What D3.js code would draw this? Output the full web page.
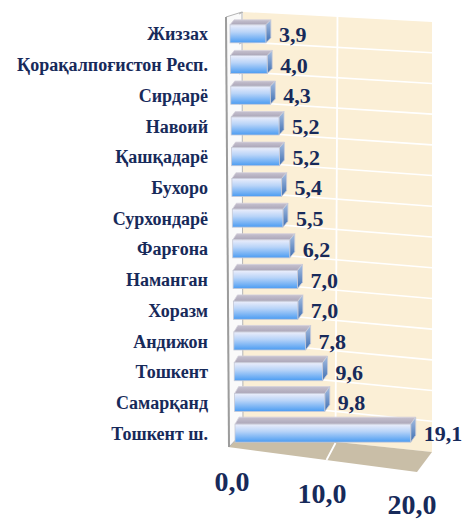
<!DOCTYPE html>
<html>
<head>
<meta charset="utf-8">
<script src="https://cdn.jsdelivr.net/npm/d3@7"></script>
<style>
  body { margin: 0; background: #fff; }
  text { font-family: "Liberation Serif", "Times New Roman", "DejaVu Serif", serif; font-weight: bold; fill: #172a5a; }
</style>
</head>
<body>
<div id="chart"></div>
<script>
// DATA
const regions = ["Жиззах", "Қорақалпоғистон Респ.", "Сирдарё", "Навоий", "Қашқадарё", "Бухоро",
  "Сурхондарё", "Фарғона", "Наманган", "Хоразм", "Андижон", "Тошкент", "Самарқанд", "Тошкент ш."];
const shares = [3.9, 4.0, 4.3, 5.2, 5.2, 5.4, 5.5, 6.2, 7.0, 7.0, 7.8, 9.6, 9.8, 19.1];
const ticks = [0, 10, 20];

const WIDTH = 464;
const HEIGHT = 519;
const fmt = v => v.toFixed(1).replace(".", ",");

const svg = d3.select("#chart").append("svg")
  .attr("width", WIDTH).attr("height", HEIGHT);

const defs = svg.append("defs");
const grad = (id, stops) => {
  const g = defs.append("linearGradient").attr("id", id)
    .attr("x1", 0).attr("y1", 0).attr("x2", 0).attr("y2", 1);
  stops.forEach(([o, c]) => g.append("stop").attr("offset", o).attr("stop-color", c));
};
grad("front", [["0%", "#eceefb"], ["40%", "#b9d4f8"], ["100%", "#4b9cf2"]]);
grad("side", [["0%", "#a9c0e2"], ["100%", "#3d6eb2"]]);
grad("top", [["0%", "#c6c1cf"], ["100%", "#aba6b8"]]);

// scales
const y = d3.scaleBand().domain(regions).range([19, 449]).padding(0);
const xLen = d3.scaleLinear().domain([0, 20]).range([0, 184]);
const xBack = d3.scaleLinear().domain([0, 20]).range([243, 432]);
const rowIdx = d3.scaleLinear().domain([0, regions.length - 1]);
const barStart = rowIdx.copy().range([230, 235]);
const depthDy = rowIdx.copy().range([5, 7]);
const tickX = d3.scaleLinear().domain([0, 20]).range([232, 412]);
const tickY = d3.scaleLinear().domain([0, 20]).range([491, 514]);

// back wall
const wallTopL = 12, wallTopR = 22, wallBotL = 432, wallBotR = 452;
svg.append("polygon")
  .attr("points", [[243, wallTopL], [432, wallTopR], [432, wallBotR], [243, wallBotL]].join(" "))
  .attr("fill", "#fbefd6");

// row separators on back wall
const sepL = d3.scaleLinear().domain([0, regions.length]).range([wallTopL, wallBotL]);
const sepR = d3.scaleLinear().domain([0, regions.length]).range([wallTopR, wallBotR]);
svg.append("g").selectAll("line").data(d3.range(1, regions.length)).join("line")
  .attr("x1", 243).attr("x2", 432)
  .attr("y1", d => sepL(d)).attr("y2", d => sepR(d))
  .attr("stroke", "#fff").attr("stroke-width", 1.6);

// vertical gridlines on back wall
svg.append("g").selectAll("line").data(ticks.slice(1, -1)).join("line")
  .attr("x1", d => xBack(d)).attr("x2", d => xBack(d) - 2)
  .attr("y1", 16).attr("y2", 443)
  .attr("stroke", "#fff").attr("stroke-width", 1.8);

// floor
svg.append("polygon")
  .attr("points", [[243, wallBotL], [432, wallBotR], [417, 472], [228, 447]].join(" "))
  .attr("fill", "#c9bea7");
svg.append("g").selectAll("line").data(ticks.slice(1, -1)).join("line")
  .attr("x1", d => xBack(d) - 2).attr("y1", 443)
  .attr("x2", d => xBack(d) - 11).attr("y2", 460)
  .attr("stroke", "#fff").attr("stroke-width", 1.8);

// left wall
svg.append("polygon")
  .attr("points", [[226, 17], [242, 12], [243, wallBotL], [229, 447]].join(" "))
  .attr("fill", "#fafafa").attr("stroke", "#b4b4b4").attr("stroke-width", 1);
svg.append("line")
  .attr("x1", 226).attr("y1", 17).attr("x2", 229).attr("y2", 447)
  .attr("stroke", "#9c9c9c").attr("stroke-width", 2);
svg.append("g").selectAll("line").data(d3.range(0, regions.length)).join("line")
  .attr("x1", 239).attr("x2", 243)
  .attr("y1", d => sepL(d) + 2).attr("y2", d => sepL(d))
  .attr("stroke", "#b0b0b0").attr("stroke-width", 1);

// bars
const FH = 18, DX = 5;
const bars = svg.append("g").selectAll("g").data(regions).join("g");
bars.each(function (r, i) {
  const g = d3.select(this);
  const x0 = barStart(i);
  const x1 = x0 + xLen(shares[i]);
  const yc = y(r) + y.bandwidth() / 2 - 0.5;
  const y0 = yc - FH / 2, y1 = yc + FH / 2;
  const dy = depthDy(i);
  g.append("polygon")
    .attr("points", [[x0, y0], [x0 + DX - 1, y0 - dy], [x1 + DX, y0 - dy], [x1, y0]].join(" "))
    .attr("fill", "url(#top)").attr("stroke", "#d4d0dc").attr("stroke-width", 0.8);
  g.append("polygon")
    .attr("points", [[x1, y0], [x1 + DX, y0 - dy], [x1 + DX, y1 - dy], [x1, y1]].join(" "))
    .attr("fill", "url(#side)").attr("stroke", "#c9ccd8").attr("stroke-width", 0.8);
  g.append("rect")
    .attr("x", x0).attr("y", y0).attr("width", x1 - x0).attr("height", FH)
    .attr("fill", "url(#front)").attr("stroke", "#c4c8d6").attr("stroke-width", 0.8);
  g.append("text")
    .attr("x", x1 + DX + 8).attr("y", yc + 8)
    .attr("font-size", 22)
    .text(fmt(shares[i]));
});

// category labels
svg.append("g").selectAll("text").data(regions).join("text")
  .attr("x", 208)
  .attr("y", d => y(d) + y.bandwidth() / 2 + 6)
  .attr("text-anchor", "end")
  .attr("font-size", 18)
  .text(d => d);

// value axis labels
svg.append("g").selectAll("text").data(ticks).join("text")
  .attr("x", d => tickX(d))
  .attr("y", d => tickY(d))
  .attr("text-anchor", "middle")
  .attr("font-size", 28)
  .text(d => fmt(d));
</script>
</body>
</html>
